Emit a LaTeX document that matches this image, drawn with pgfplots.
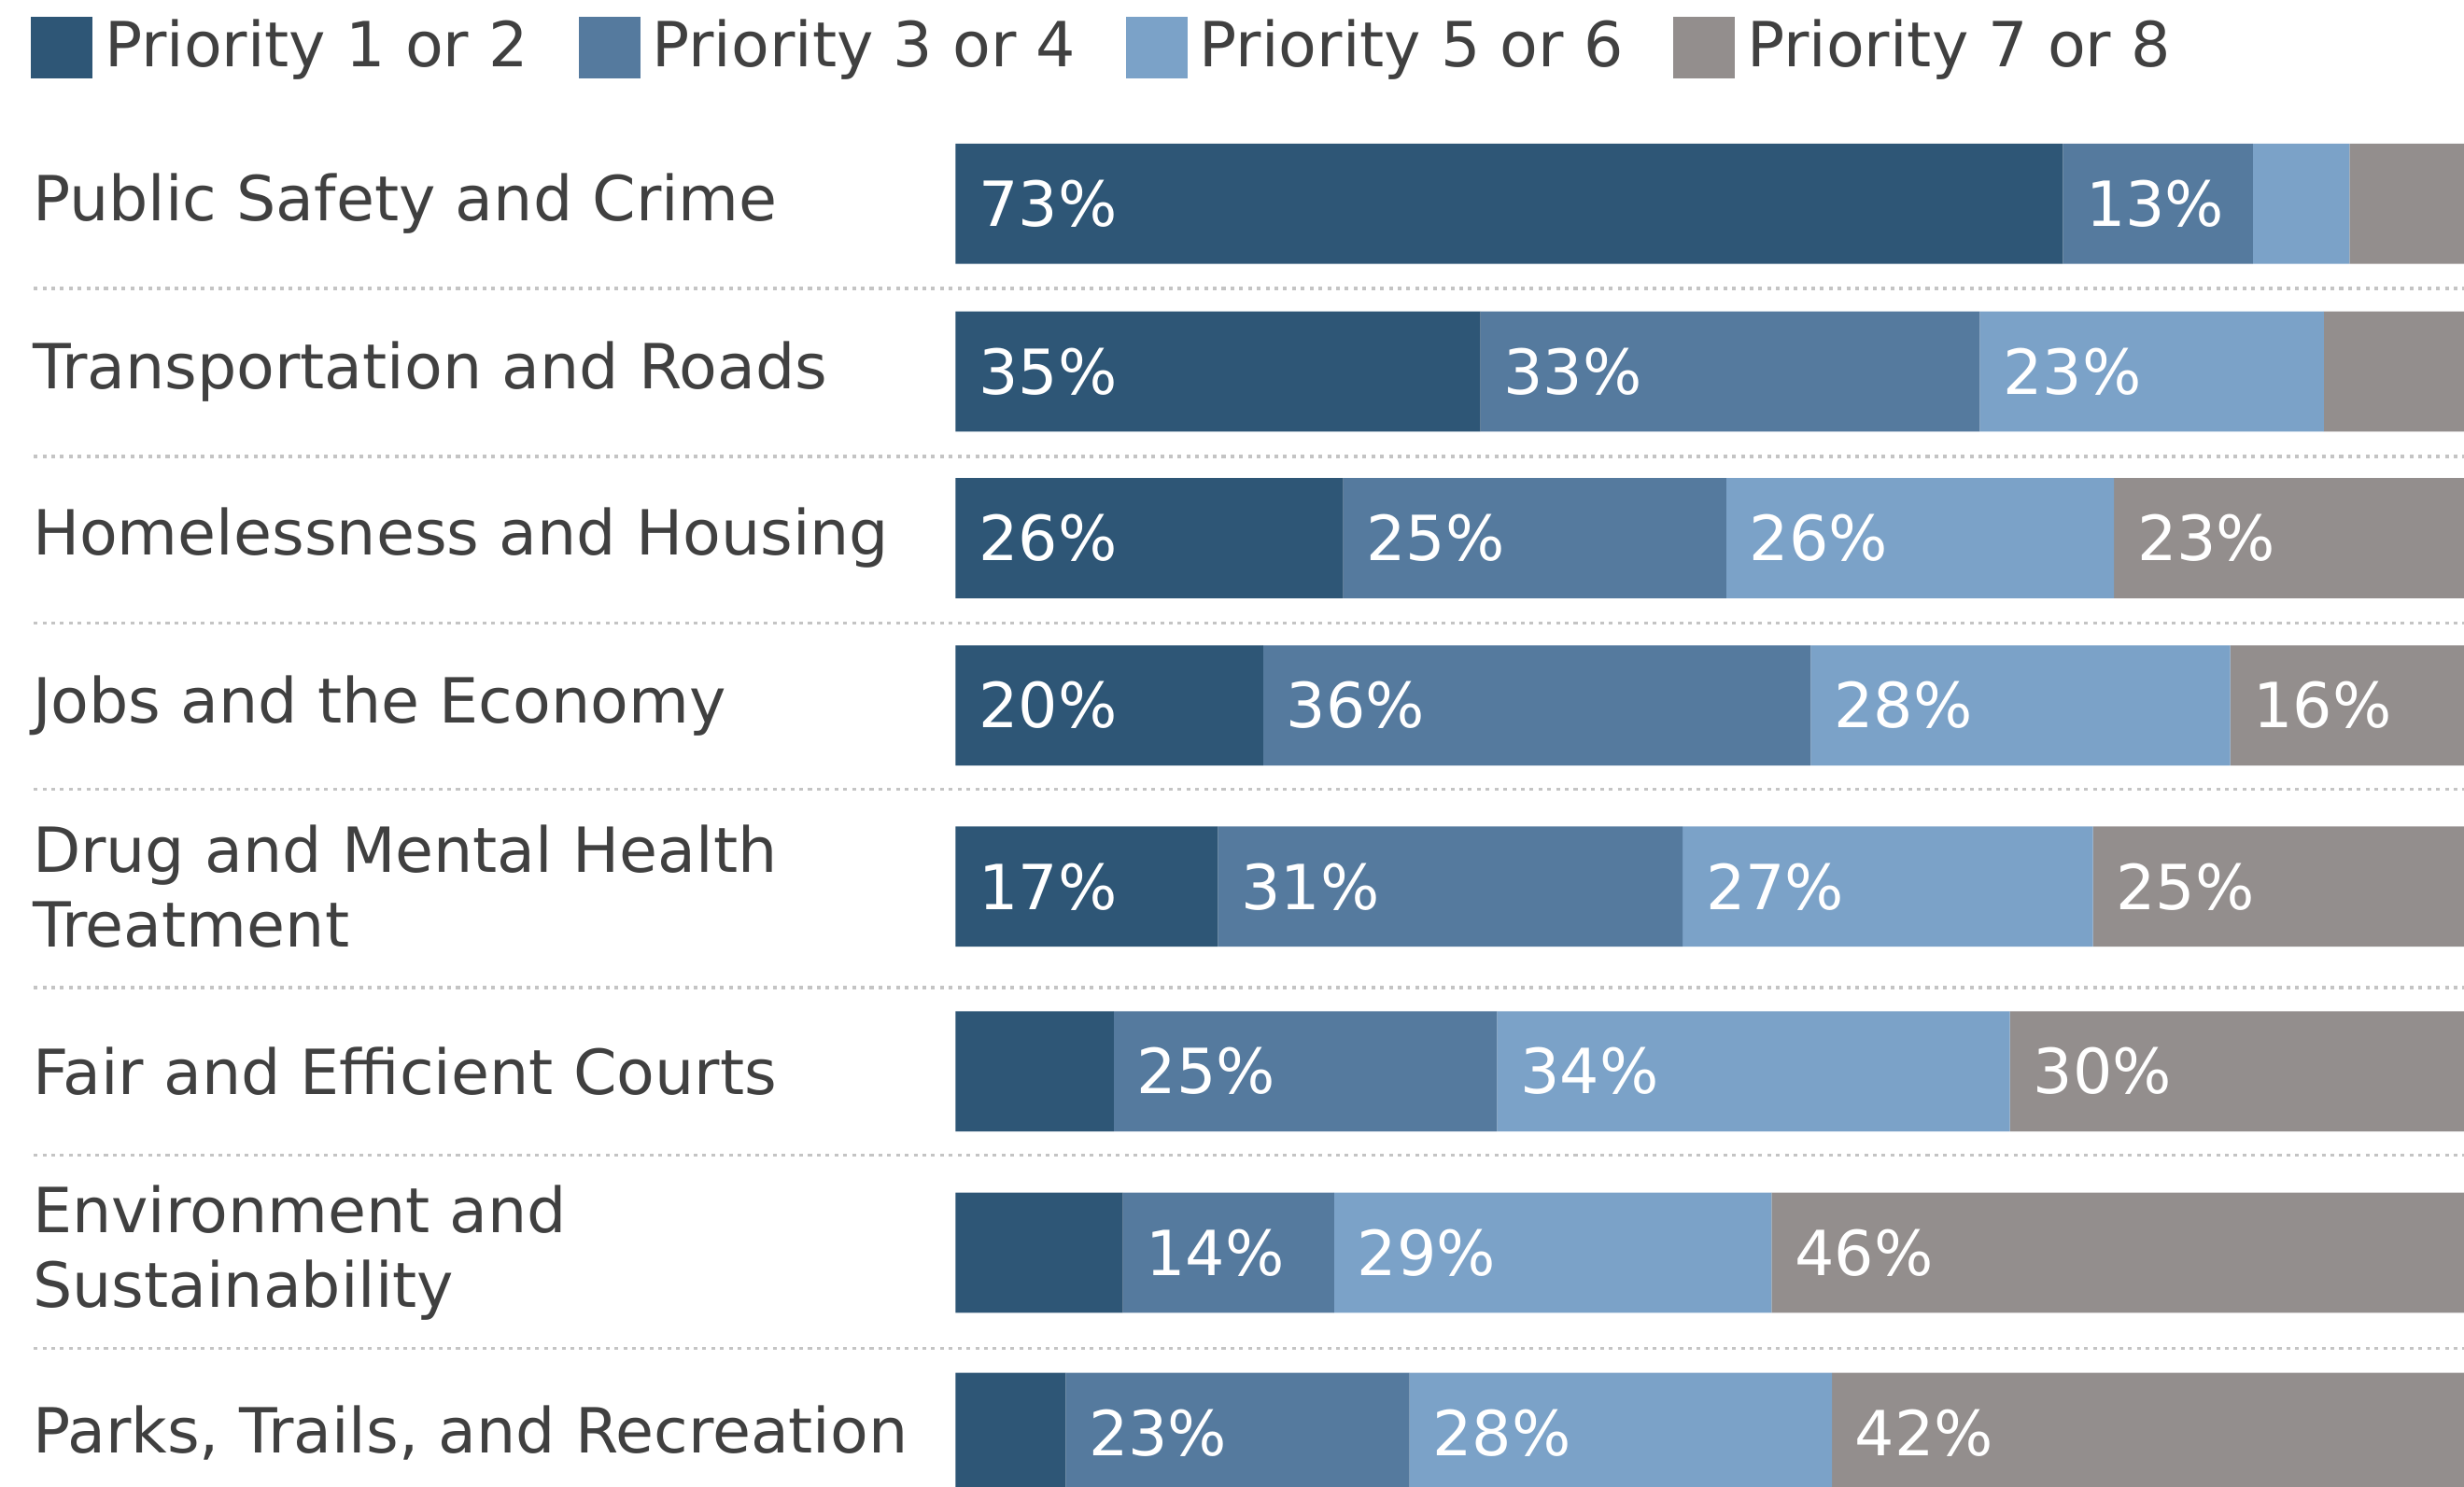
\documentclass[border=0pt]{standalone}
\usepackage{fontspec}
\setmainfont{DejaVu Sans}
\usepackage{pgfplots}
\pgfplotsset{compat=1.18}
\usepackage{pgfplotstable}
\definecolor{pone}{HTML}{2E5676}
\definecolor{ptwo}{HTML}{557A9E}
\definecolor{pthree}{HTML}{7BA2C8}
\definecolor{pfour}{HTML}{938E8D}
\definecolor{txt}{HTML}{404040}
\definecolor{gridc}{HTML}{C4C4C4}
% y = row centre (px from top); p1..p4 = share in percent for priority 1/2, 3/4, 5/6, 7/8
\pgfplotstableread{
y p1 p2 p3 p4
129.7 73.4 12.6 6.4 7.6
236.5 34.8 33.1 22.8 9.3
342.5 25.7 25.4 25.7 23.2
449.0 20.4 36.3 27.8 15.6
564.3 17.4 30.8 27.2 24.6
681.9 10.5 25.4 34.0 30.1
797.3 11.1 14.0 29.0 45.9
912.0 7.3 22.8 28.0 41.9
}\data
\newcommand{\lblfont}{\fontsize{9.9}{11.9}\selectfont}
\pgfplotsset{
  frame/.style={scale only axis, width=392pt, height=236.5pt,
    xmin=-63.3333, xmax=100, ymin=0, ymax=946, y dir=reverse, enlargelimits=false},
  seglabel/.style={draw=none, mark=none,
    point meta={\thisrow{#1}},
    visualization depends on={\thisrow{#1} \as \segw},
    nodes near coords={\ifdim\segw pt<12pt\relax\else\pgfmathprintnumber[fixed,precision=0]{\pgfplotspointmeta}\%\fi},
    every node near coord/.append style={anchor=west, text=white, font=\lblfont, inner sep=0pt, xshift=3.5pt}},
}
\begin{document}
\begin{tikzpicture}
\begin{axis}[
  frame,
  xbar stacked, bar width=76.5,
  axis line style={draw=none},
  xtick=\empty, major tick length=0pt, ytick style={draw=none},
  ytick={129.7,236.5,342.5,449.0,564.3,681.9,797.3,912.0},
  yticklabels={Public Safety and Crime,Transportation and Roads,Homelessness and Housing,Jobs and the Economy,{Drug and Mental Health\\Treatment},Fair and Efficient Courts,{Environment and\\Sustainability},{Parks, Trails, and Recreation}},
  yticklabel style={anchor=west, align=left, inner sep=0pt, xshift=5pt, font=\lblfont, text=txt},
  legend columns=4,
  legend cell align=left,
  legend style={at={(axis description cs:0,1)}, anchor=north west, xshift=4.75pt, yshift=-2.5pt,
    draw=none, fill=none, inner sep=0pt, font=\lblfont, text=txt,
    nodes={inner sep=0pt},
    /tikz/every odd column/.append style={column sep=1.9pt},
    /tikz/every even column/.append style={column sep=8.0pt}},
  legend image code/.code={\fill[#1] (0pt,-4.9pt) rectangle (9.8pt,4.9pt);},
]
\addplot[fill=pone, draw=none] table[x=p1, y=y] {\data};
\addlegendentry{Priority 1 or 2}
\addplot[fill=ptwo, draw=none] table[x=p2, y=y] {\data};
\addlegendentry{Priority 3 or 4}
\addplot[fill=pthree, draw=none] table[x=p3, y=y] {\data};
\addlegendentry{Priority 5 or 6}
\addplot[fill=pfour, draw=none] table[x=p4, y=y] {\data};
\addlegendentry{Priority 7 or 8}
\draw[gridc, line width=0.5pt, dash pattern=on 0.6pt off 0.8pt] (axis cs:-61.1,183.5) -- (axis cs:100,183.5);
\draw[gridc, line width=0.5pt, dash pattern=on 0.6pt off 0.8pt] (axis cs:-61.1,290.5) -- (axis cs:100,290.5);
\draw[gridc, line width=0.5pt, dash pattern=on 0.6pt off 0.8pt] (axis cs:-61.1,396.5) -- (axis cs:100,396.5);
\draw[gridc, line width=0.5pt, dash pattern=on 0.6pt off 0.8pt] (axis cs:-61.1,502.5) -- (axis cs:100,502.5);
\draw[gridc, line width=0.5pt, dash pattern=on 0.6pt off 0.8pt] (axis cs:-61.1,628.6) -- (axis cs:100,628.6);
\draw[gridc, line width=0.5pt, dash pattern=on 0.6pt off 0.8pt] (axis cs:-61.1,735.3) -- (axis cs:100,735.3);
\draw[gridc, line width=0.5pt, dash pattern=on 0.6pt off 0.8pt] (axis cs:-61.1,858.2) -- (axis cs:100,858.2);
\end{axis}
% segment labels, placed at the start of each segment (no stacking here)
\begin{axis}[frame, hide axis, clip=false, /pgf/number format/assume math mode=true]
\addplot[seglabel=p1] table[x expr=0, y=y] {\data};
\addplot[seglabel=p2] table[x expr=\thisrow{p1}, y=y] {\data};
\addplot[seglabel=p3] table[x expr=\thisrow{p1}+\thisrow{p2}, y=y] {\data};
\addplot[seglabel=p4] table[x expr=\thisrow{p1}+\thisrow{p2}+\thisrow{p3}, y=y] {\data};
\end{axis}
\pgfresetboundingbox
\path[use as bounding box] (current axis.south west) rectangle (current axis.north east);
\end{tikzpicture}
\end{document}
